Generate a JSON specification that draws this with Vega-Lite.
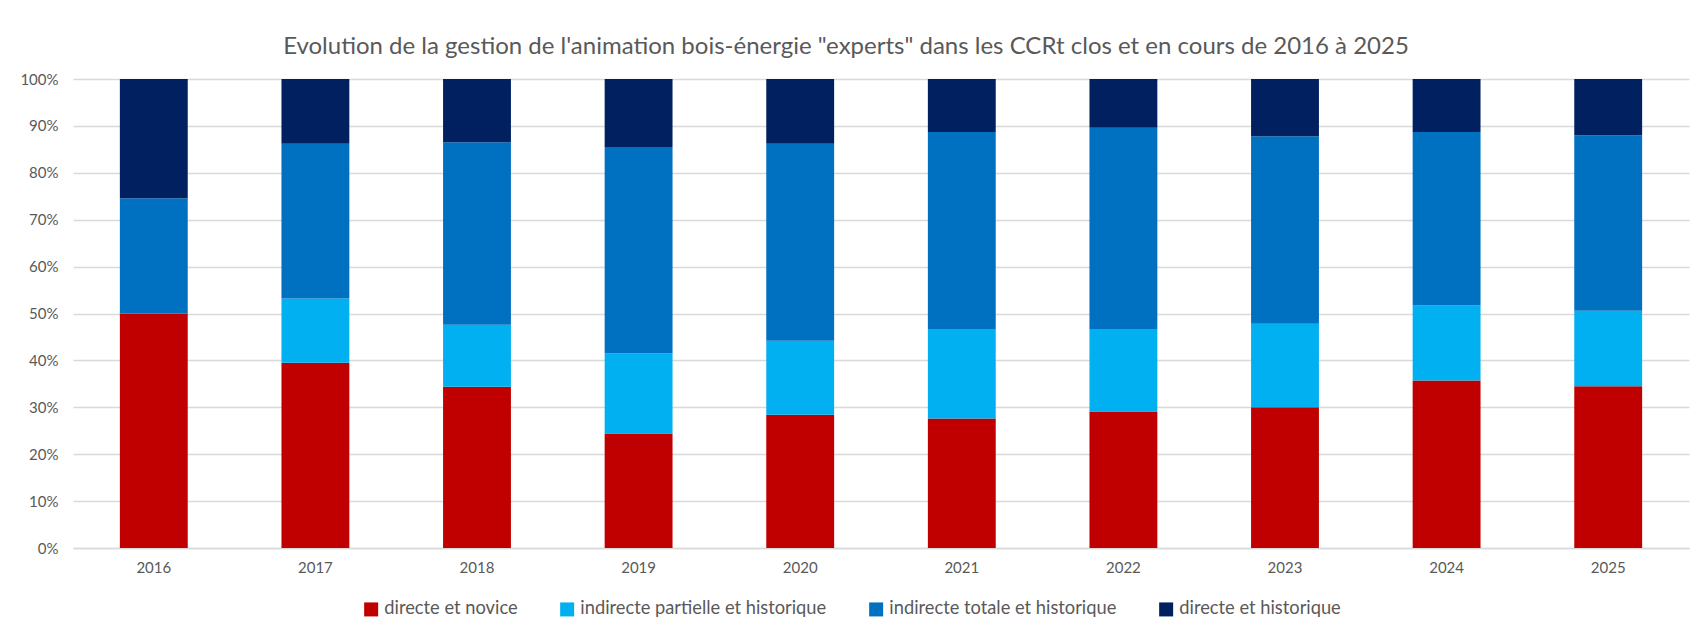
{
  "$schema": "https://vega.github.io/schema/vega-lite/v6.json",
  "autosize": {"type": "none"},
  "padding": {"left": 73, "top": 79, "right": 1, "bottom": 84},
  "width": 1616,
  "height": 469,
  "background": "white",
  "config": {"view": {"stroke": null}, "font": "Lato"},
  "title": {
    "text": "Evolution de la gestion de l'animation bois-énergie \"experts\" dans les CCRt clos et en cours de 2016 à 2025",
    "font": "Lato",
    "fontSize": 24,
    "fontWeight": "normal",
    "color": "#595959",
    "anchor": "middle",
    "dx": -35,
    "offset": 13
  },
  "data": {
    "values": [
      {"year": "2016", "cat": "directe et novice", "k": 1, "value": 0.500},
      {"year": "2016", "cat": "indirecte partielle et historique", "k": 2, "value": 0.000},
      {"year": "2016", "cat": "indirecte totale et historique", "k": 3, "value": 0.246},
      {"year": "2016", "cat": "directe et historique", "k": 4, "value": 0.254},
      {"year": "2017", "cat": "directe et novice", "k": 1, "value": 0.395},
      {"year": "2017", "cat": "indirecte partielle et historique", "k": 2, "value": 0.137},
      {"year": "2017", "cat": "indirecte totale et historique", "k": 3, "value": 0.330},
      {"year": "2017", "cat": "directe et historique", "k": 4, "value": 0.138},
      {"year": "2018", "cat": "directe et novice", "k": 1, "value": 0.344},
      {"year": "2018", "cat": "indirecte partielle et historique", "k": 2, "value": 0.132},
      {"year": "2018", "cat": "indirecte totale et historique", "k": 3, "value": 0.389},
      {"year": "2018", "cat": "directe et historique", "k": 4, "value": 0.135},
      {"year": "2019", "cat": "directe et novice", "k": 1, "value": 0.244},
      {"year": "2019", "cat": "indirecte partielle et historique", "k": 2, "value": 0.171},
      {"year": "2019", "cat": "indirecte totale et historique", "k": 3, "value": 0.440},
      {"year": "2019", "cat": "directe et historique", "k": 4, "value": 0.145},
      {"year": "2020", "cat": "directe et novice", "k": 1, "value": 0.284},
      {"year": "2020", "cat": "indirecte partielle et historique", "k": 2, "value": 0.158},
      {"year": "2020", "cat": "indirecte totale et historique", "k": 3, "value": 0.420},
      {"year": "2020", "cat": "directe et historique", "k": 4, "value": 0.138},
      {"year": "2021", "cat": "directe et novice", "k": 1, "value": 0.276},
      {"year": "2021", "cat": "indirecte partielle et historique", "k": 2, "value": 0.191},
      {"year": "2021", "cat": "indirecte totale et historique", "k": 3, "value": 0.420},
      {"year": "2021", "cat": "directe et historique", "k": 4, "value": 0.113},
      {"year": "2022", "cat": "directe et novice", "k": 1, "value": 0.291},
      {"year": "2022", "cat": "indirecte partielle et historique", "k": 2, "value": 0.176},
      {"year": "2022", "cat": "indirecte totale et historique", "k": 3, "value": 0.429},
      {"year": "2022", "cat": "directe et historique", "k": 4, "value": 0.104},
      {"year": "2023", "cat": "directe et novice", "k": 1, "value": 0.300},
      {"year": "2023", "cat": "indirecte partielle et historique", "k": 2, "value": 0.178},
      {"year": "2023", "cat": "indirecte totale et historique", "k": 3, "value": 0.400},
      {"year": "2023", "cat": "directe et historique", "k": 4, "value": 0.122},
      {"year": "2024", "cat": "directe et novice", "k": 1, "value": 0.357},
      {"year": "2024", "cat": "indirecte partielle et historique", "k": 2, "value": 0.160},
      {"year": "2024", "cat": "indirecte totale et historique", "k": 3, "value": 0.370},
      {"year": "2024", "cat": "directe et historique", "k": 4, "value": 0.113},
      {"year": "2025", "cat": "directe et novice", "k": 1, "value": 0.345},
      {"year": "2025", "cat": "indirecte partielle et historique", "k": 2, "value": 0.161},
      {"year": "2025", "cat": "indirecte totale et historique", "k": 3, "value": 0.374},
      {"year": "2025", "cat": "directe et historique", "k": 4, "value": 0.120}
    ]
  },
  "mark": {"type": "bar"},
  "encoding": {
    "x": {
      "field": "year",
      "type": "ordinal",
      "scale": {"paddingInner": 0.58, "paddingOuter": 0.29},
      "axis": {
        "title": null,
        "labelAngle": 0,
        "labelFont": "Lato",
        "labelFontSize": 15,
        "labelColor": "#595959",
        "labelPadding": 12,
        "ticks": false,
        "tickSize": 0,
        "domainColor": "#D9D9D9",
        "domainWidth": 1.5,
        "grid": false
      }
    },
    "y": {
      "field": "value",
      "type": "quantitative",
      "stack": "normalize",
      "scale": {"domain": [0, 1], "nice": false},
      "axis": {
        "title": null,
        "format": ".0%",
        "values": [0, 0.1, 0.2, 0.3, 0.4, 0.5, 0.6, 0.7, 0.8, 0.9, 1],
        "labelFont": "Lato",
        "labelFontSize": 15,
        "labelColor": "#595959",
        "labelPadding": 15,
        "ticks": false,
        "tickSize": 0,
        "domain": false,
        "grid": true,
        "gridColor": "#D9D9D9",
        "gridWidth": 1.5
      }
    },
    "color": {
      "field": "cat",
      "type": "nominal",
      "scale": {
        "domain": ["directe et novice", "indirecte partielle et historique", "indirecte totale et historique", "directe et historique"],
        "range": ["#C00000", "#00B0F0", "#0070C0", "#002060"]
      },
      "legend": {
        "title": null,
        "orient": "none",
        "legendX": 289,
        "legendY": 521,
        "direction": "horizontal",
        "columns": 4,
        "symbolType": "square",
        "symbolSize": 196,
        "symbolStrokeWidth": 0,
        "symbolOpacity": 1,
        "labelFont": "Lato",
        "labelFontSize": 18.3,
        "labelLimit": 0,
        "labelColor": "#595959",
        "labelOffset": 4,
        "columnPadding": 40
      }
    },
    "order": {"field": "k", "type": "quantitative"}
  }
}
